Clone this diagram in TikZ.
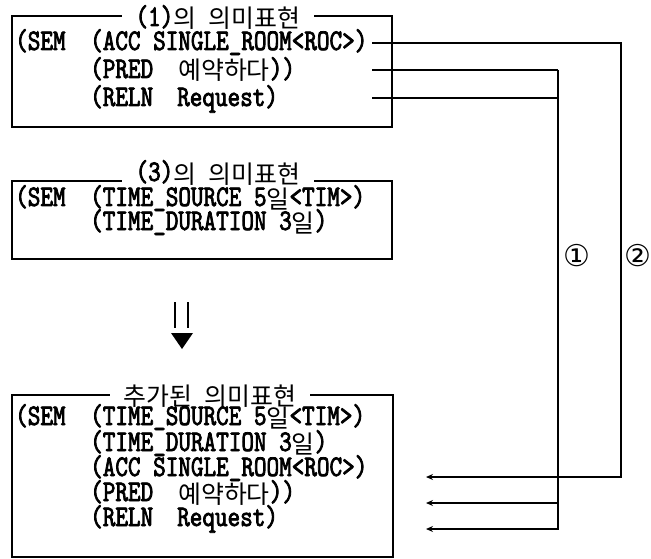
\documentclass[tikz,border=0pt]{standalone}
\usepackage{fontspec}
\usetikzlibrary{arrows.meta}
\newfontfamily\latn[FakeStretch=0.8,FakeBold=2.5]{lmmono10-regular.otf}
\newfontfamily\kor[Scale=0.83]{Noto Sans CJK KR}
\newfontfamily\circfont{DejaVu Sans}
\newcommand\ko[1]{\raisebox{-2pt}{\kor #1}}

\begin{document}
\begin{tikzpicture}[x=1pt, y=-1pt,
    frame/.style={draw, line width=1.3pt},
    row/.style={anchor=base west, inner sep=0pt, text height=16pt, text depth=4pt,
                font=\fontsize{30}{32}\selectfont\latn},
    title/.style={anchor=base, fill=white, inner xsep=14pt, inner ysep=0pt, text height=16pt, text depth=3pt,
                  font=\fontsize{30}{32}\selectfont\latn},
    num/.style={inner sep=0pt, font=\fontsize{30}{32}\selectfont\circfont},
    link/.style={line width=1.3pt},
    arr/.style={link, -{Stealth[length=7pt, width=6pt]}}
]
\useasboundingbox (0,0) rectangle (651,559);

% (1)의 의미표현
\draw[frame] (12,16) rectangle (392,127);
\node[title] (t1) at (218,26) {(1)\ko{의} \ko{의미표현}};
\node[row] (a1sem)  at (15,50)  {(SEM};
\node[row] (a1acc)  at (90,50)  {(ACC SINGLE\_ROOM<ROC>)};
\node[row] (a1pred) at (90,78)  {(PRED};
\node[row] (a1verb) at (178,78) {\ko{예약하다}))};
\node[row] (a1reln) at (90,106) {(RELN};
\node[row] (a1req)  at (177,106) {Request)};

% (3)의 의미표현
\draw[frame] (12,181) rectangle (392,259);
\node[title] (t2) at (218,181) {(3)\ko{의} \ko{의미표현}};
\node[row] (a2sem) at (15,206) {(SEM};
\node[row] (a2src) at (90,206) {(TIME\_SOURCE 5\ko{일}<TIM>)};
\node[row] (a2dur) at (90,230) {(TIME\_DURATION 3\ko{일})};

% arrow down
\draw[line width=1.5pt] (175,302) -- (175,328) (188,302) -- (188,328);
\fill (171,333) -- (193,333) -- (182,349) -- cycle;

% 추가된 의미표현
\draw[frame] (12,395) rectangle (393,557);
\node[title] (t3) at (210,403) {\ko{추가된} \ko{의미표현}};
\node[row] (a3sem)  at (15,425)  {(SEM};
\node[row] (a3src)  at (90,425)  {(TIME\_SOURCE 5\ko{일}<TIM>)};
\node[row] (a3dur)  at (90,451)  {(TIME\_DURATION 3\ko{일})};
\node[row] (a3acc)  at (90,476)  {(ACC SINGLE\_ROOM<ROC>)};
\node[row] (a3pred) at (90,501)  {(PRED};
\node[row] (a3verb) at (178,501) {\ko{예약하다}))};
\node[row] (a3reln) at (90,526)  {(RELN};
\node[row] (a3req)  at (177,526) {Request)};

% connectors
\coordinate (o1) at (372,43);
\coordinate (o2) at (372,70);
\coordinate (o3) at (372,98);
\coordinate (c2) at (621,43);
\coordinate (c1) at (558,70);
\coordinate (i1) at (426,477);
\coordinate (i2) at (426,503);
\coordinate (i3) at (426,529);

\draw[arr] (o1) -- (c2) |- (i1);
\draw[link] (o2) -- (c1);
\draw[link] (o3) -- (c1 |- o3);
\draw[arr] (c1) |- (i3);
\draw[arr] (c1 |- i2) -- (i2);

\node[num] (n1) at (577,256) {①};
\node[num] (n2) at (638,256) {②};
\end{tikzpicture}
\end{document}
